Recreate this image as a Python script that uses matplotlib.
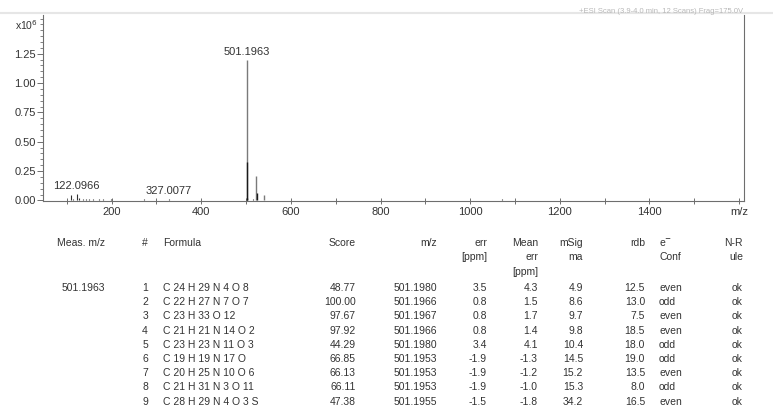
import matplotlib.pyplot as plt
from matplotlib.ticker import MultipleLocator, FixedLocator
from matplotlib.lines import Line2D

plt.rcParams['font.family'] = ['Liberation Sans', 'DejaVu Sans']

# spectrum: main peaks (m/z, intensity x1e6)
main_mz = [501.1963, 523.18, 539.15]
main_int = [1.20, 0.205, 0.050]
iso_mz = [502.20, 524.18, 503.20]
iso_int = [0.330, 0.062, 0.020]

# small baseline peaks
noise_mz = [105, 110.1, 115, 122.1, 128, 136, 143, 150, 158, 165, 172, 180, 190, 199,
            210, 222, 235, 248, 260, 272, 285, 298, 312, 327.0077, 341, 356, 370, 385,
            400, 415, 430, 446, 460, 475, 488, 515, 550, 565, 580, 600, 620, 640, 660,
            690, 720, 750, 780, 800, 820, 840, 860, 880, 900, 950, 1070]
noise_int = [0.006, 0.050, 0.012, 0.055, 0.018, 0.010, 0.012, 0.008, 0.010, 0.007, 0.009,
             0.008, 0.007, 0.008, 0.006, 0.007, 0.006, 0.007, 0.006, 0.008, 0.007, 0.006,
             0.007, 0.012, 0.007, 0.006, 0.007, 0.006, 0.006, 0.007, 0.006, 0.006, 0.005,
             0.006, 0.006, 0.010, 0.006, 0.005, 0.006, 0.005, 0.005, 0.004, 0.005, 0.004,
             0.004, 0.004, 0.005, 0.006, 0.006, 0.007, 0.006, 0.005, 0.004, 0.004, 0.012]

peak_labels = [(501.1963, 1.20, '501.1963'), (122.0966, 0.055, '122.0966'),
               (327.0077, 0.012, '327.0077')]

x_ticks = [200, 400, 600, 800, 1000, 1200, 1400, 1600]
x_tick_labels = ['200', '400', '600', '800', '1000', '1200', '1400', 'm/z']
y_ticks = [0.0, 0.25, 0.5, 0.75, 1.0, 1.25]

# results table
meas_mz = '501.1963'
row_no = ['1', '2', '3', '4', '5', '6', '7', '8', '9']
formula = ['C 24 H 29 N 4 O 8', 'C 22 H 27 N 7 O 7', 'C 23 H 33 O 12', 'C 21 H 21 N 14 O 2',
           'C 23 H 23 N 11 O 3', 'C 19 H 19 N 17 O', 'C 20 H 25 N 10 O 6',
           'C 21 H 31 N 3 O 11', 'C 28 H 29 N 4 O 3 S']
score = ['48.77', '100.00', '97.67', '97.92', '44.29', '66.85', '66.13', '66.11', '47.38']
calc_mz = ['501.1980', '501.1966', '501.1967', '501.1966', '501.1980', '501.1953',
           '501.1953', '501.1953', '501.1955']
err = ['3.5', '0.8', '0.8', '0.8', '3.4', '-1.9', '-1.9', '-1.9', '-1.5']
mean_err = ['4.3', '1.5', '1.7', '1.4', '4.1', '-1.3', '-1.2', '-1.0', '-1.8']
msigma = ['4.9', '8.6', '9.7', '9.8', '10.4', '14.5', '15.2', '15.3', '34.2']
rdb = ['12.5', '13.0', '7.5', '18.5', '18.0', '19.0', '13.5', '8.0', '16.5']
e_conf = ['even', 'odd', 'even', 'even', 'odd', 'odd', 'even', 'odd', 'even']
n_rule = ['ok'] * 9

W, H = 773, 411
fig = plt.figure(figsize=(W / 100, H / 100), dpi=100)
ax = fig.add_axes([43 / W, 1 - 201 / H, (744 - 43) / W, (201 - 15) / H])

axis_col = '#6e6e6e'
text_col = '#333333'

ax.vlines(noise_mz, 0, noise_int, color='#303030', lw=0.8)
ax.vlines(main_mz, 0, main_int, color='#7a7a7a', lw=1.0)
ax.vlines(iso_mz, 0, iso_int, color='#1a1a1a', lw=1.0)

for mz, h, lab in peak_labels:
    ax.annotate(lab, (mz, h), xytext=(0, 2), textcoords='offset points',
                ha='center', va='bottom', fontsize=8, color=text_col)

ax.set_xlim(47, 1611)
ax.set_ylim(-0.005, 1.58)

ax.xaxis.set_major_locator(FixedLocator(x_ticks))
ax.set_xticklabels(x_tick_labels)
ax.xaxis.set_minor_locator(MultipleLocator(100))
ax.set_yticks(y_ticks)
ax.set_yticklabels(['%.2f' % v for v in y_ticks])
ax.yaxis.set_minor_locator(MultipleLocator(0.05))

ax.tick_params(axis='x', which='both', direction='inout', length=4, width=0.7,
               colors=axis_col, labelcolor=text_col, labelsize=8, pad=2)
ax.tick_params(axis='y', which='major', direction='out', length=4, width=0.7,
               colors=axis_col, labelcolor=text_col, labelsize=8, pad=1)
ax.tick_params(axis='y', which='minor', direction='out', length=2, width=0.6,
               colors=axis_col)

ax.spines['top'].set_visible(False)
for s in ['left', 'bottom', 'right']:
    ax.spines[s].set_color(axis_col)
    ax.spines[s].set_linewidth(0.8)

ax.text(-0.04, 0.948, r'x10$^{6}$', transform=ax.transAxes, fontsize=7.5,
        color=text_col, ha='left', va='center')

# faint header at top right and top border of the screenshot
fig.text(743 / W, 1 - 15 / H, '+ESI Scan (3.9-4.0 min, 12 Scans) Frag=175.0V',
         fontsize=5.5, color='#b8b8b8', ha='right', va='bottom')
fig.add_artist(Line2D([0, 1], [1 - 13 / H, 1 - 13 / H], color='#e6e6e6', lw=1.5))

# table
def fy(py):
    return 1 - py / H

fs = 7.5
hdr = [(105, 'right', ['Meas. m/z']), (148, 'right', ['#']), (163, 'left', ['Formula']),
       (356, 'right', ['Score']), (437, 'right', ['m/z']), (487, 'right', ['err', '[ppm]']),
       (538, 'right', ['Mean', 'err', '[ppm]']), (583, 'right', ['mSig', 'ma']),
       (645, 'right', ['rdb']), (659, 'left', ['e$^{\\mathbf{-}}$', 'Conf']),
       (743, 'right', ['N-R', 'ule'])]
for x, ha, lines in hdr:
    for k, t in enumerate(lines):
        fig.text(x / W, fy(243 + k * 14.5), t, fontsize=fs, color=text_col,
                 ha=ha, va='center')

cols = [(148, 'right', row_no), (163, 'left', formula), (356, 'right', score),
        (437, 'right', calc_mz), (487, 'right', err), (538, 'right', mean_err),
        (583, 'right', msigma), (645, 'right', rdb), (659, 'left', e_conf),
        (743, 'right', n_rule)]
fig.text(105 / W, fy(288), meas_mz, fontsize=fs, color=text_col, ha='right', va='center')
for x, ha, vals in cols:
    for i, v in enumerate(vals):
        fig.text(x / W, fy(288 + i * 14.2), v, fontsize=fs, color=text_col,
                 ha=ha, va='center')

fig.savefig('out.png', dpi=100)
